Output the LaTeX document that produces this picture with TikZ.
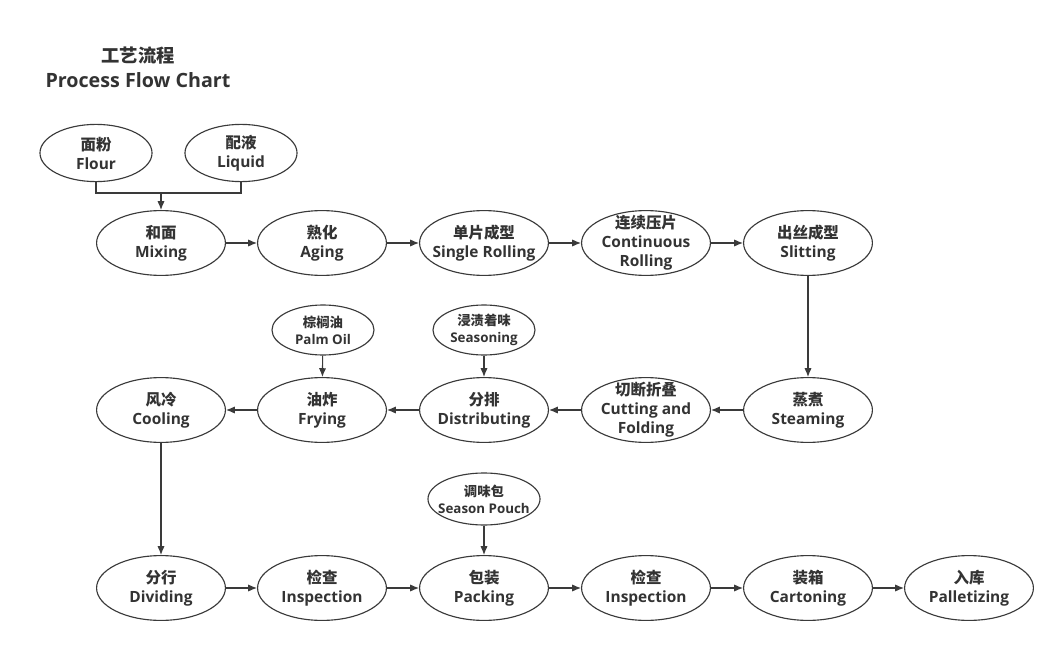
\documentclass[tikz,border=0pt]{standalone}
\usepackage{fontspec}
\setmainfont{Open Sans}
\newfontfamily\cjk{Noto Sans CJK SC}
\usetikzlibrary{arrows.meta,shapes,positioning}
\definecolor{linec}{HTML}{3A3A3A}
\definecolor{textc}{HTML}{333333}
\newcommand{\cn}[1]{{\cjk #1}}

\begin{document}
\begin{tikzpicture}[
    % GLOBAL CFG
    x=0.025cm, y=-0.025cm,
    font=\bfseries\fontsize{11}{13.5}\selectfont,
    >={Latex[length=2.2mm,width=1.8mm]},
    % Styles
    proc/.style={% For the main process steps
        ellipse,
        draw=linec,
        line width=0.8pt,
        minimum width=3.22cm,
        minimum height=1.62cm,
        inner xsep=-3mm,
        inner ysep=-2mm,
        align=center,
        text=textc,
        },
    feed/.style={% For raw materials added in
        ellipse,
        draw=linec,
        line width=0.8pt,
        minimum width=2.55cm,
        minimum height=1.25cm,
        inner xsep=-3mm,
        inner ysep=-1mm,
        align=center,
        text=textc,
        font=\bfseries\fontsize{9.5}{12}\selectfont,
        },
    link/.style={% Connectors
        line width=0.8pt,
        draw=linec,
        },
    ]

    \useasboundingbox[fill=white] (0,0) rectangle (1060,650);

    % Title
    \node[text=textc, font=\bfseries\fontsize{13}{15}\selectfont] (title) at (138,56) {\cn{工艺流程}};
    \node[text=textc, font=\bfseries\fontsize{14}{16}\selectfont] (titleen) at (138,80) {Process Flow Chart};

    % Raw materials
    \node[feed, minimum width=2.8cm, minimum height=1.43cm, font=\bfseries\fontsize{11}{13.5}\selectfont] (flour) at (96,153) {\cn{面粉}\\Flour};
    \node[feed, minimum width=2.8cm, minimum height=1.43cm, font=\bfseries\fontsize{11}{13.5}\selectfont] (liquid) at (241,153) {\cn{配液}\\Liquid};

    % First row
    \node[proc] (mix) at (161,243) {\cn{和面}\\Mixing};
    \node[proc] (age) at (322,243) {\cn{熟化}\\Aging};
    \node[proc] (single) at (484,243) {\cn{单片成型}\\Single Rolling};
    \node[proc] (cont) at (646,243) {\cn{连续压片}\\Continuous\\Rolling};
    \node[proc] (slit) at (808,243) {\cn{出丝成型}\\Slitting};

    % Second row
    \node[feed] (palm) at (323,330) {\cn{棕榈油}\\Palm Oil};
    \node[feed] (season) at (484,330) {\cn{浸渍着味}\\Seasoning};
    \node[proc] (cool) at (161,410) {\cn{风冷}\\Cooling};
    \node[proc] (fry) at (322,410) {\cn{油炸}\\Frying};
    \node[proc] (dist) at (484,410) {\cn{分排}\\Distributing};
    \node[proc] (cut) at (646,410) {\cn{切断折叠}\\Cutting and\\Folding};
    \node[proc] (steam) at (808,410) {\cn{蒸煮}\\Steaming};

    % Third row
    \node[feed, minimum width=2.8cm, minimum height=1.3cm] (pouch) at (484,499) {\cn{调味包}\\Season Pouch};
    \node[proc] (divide) at (161,588) {\cn{分行}\\Dividing};
    \node[proc] (insp1) at (322,588) {\cn{检查}\\Inspection};
    \node[proc] (pack) at (484,588) {\cn{包装}\\Packing};
    \node[proc] (insp2) at (646,588) {\cn{检查}\\Inspection};
    \node[proc] (carton) at (808,588) {\cn{装箱}\\Cartoning};
    \node[proc] (store) at (969,588) {\cn{入库}\\Palletizing};

    % Flour and liquid join before mixing
    \coordinate (join) at (161,193);
    \draw[link] (flour.south) |- (join) -| (liquid.south);
    \draw[link, ->] (join) -- (mix.north);

    % Flow along the rows
    \foreach \a/\b in {mix/age, age/single, single/cont, cont/slit,
                       steam/cut, cut/dist, dist/fry, fry/cool,
                       divide/insp1, insp1/pack, pack/insp2, insp2/carton, carton/store}
        \draw[link, ->] (\a) -- (\b);

    % Down between rows and side inputs
    \draw[link, ->] (slit) -- (steam);
    \draw[link, ->] (cool) -- (divide);
    \draw[link, ->] (palm) -- (fry);
    \draw[link, ->] (season) -- (dist);
    \draw[link, ->] (pouch) -- (pack);

\end{tikzpicture}
\end{document}
